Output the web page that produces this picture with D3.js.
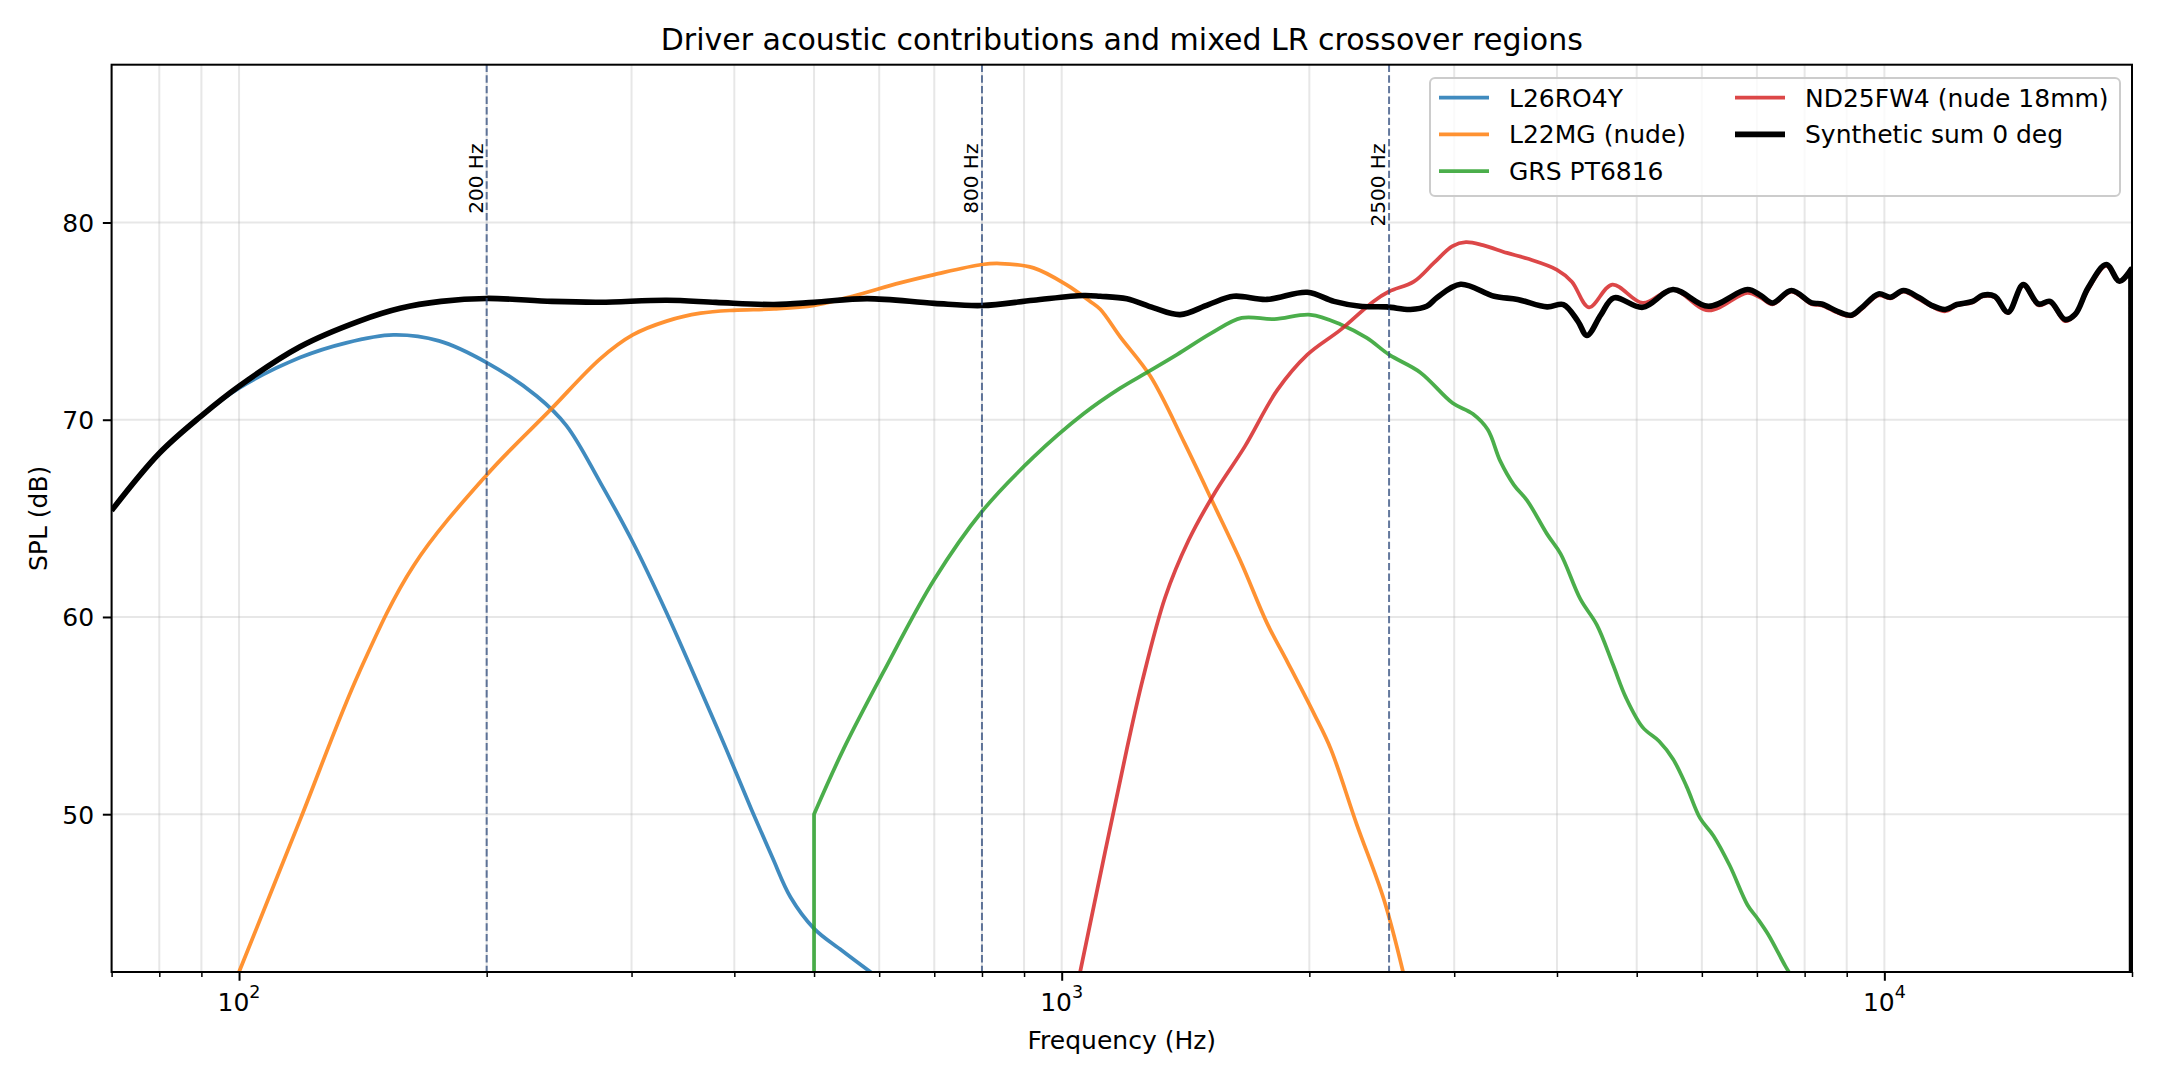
<!DOCTYPE html>
<html>
<head>
<meta charset="utf-8">
<script src="https://cdn.jsdelivr.net/npm/d3@7/dist/d3.min.js"></script>
<style>
  body { margin: 0; background: #fff; }
  .spl-chart text { font-family: 'DejaVu Sans', sans-serif; fill: #000; }
</style>
</head>
<body>
<div class="spl-chart"></div>
<script>
// [frequency Hz, SPL dB]
const l26ro4y = [
  [70, 65.4], [80, 68.3], [90, 70.2], [100, 71.6], [118.6, 73.15], [135, 73.9],
  [154, 74.3], [175, 74.0], [200, 72.9], [230, 71.2], [250, 69.7], [275, 66.8],
  [301, 63.8], [331, 60.2], [364, 56.3], [391, 53.3], [420, 50.2], [445, 47.8],
  [468, 45.8], [500, 44.2], [540, 43.1], [590, 41.9]
];

const l22mg = [
  [100, 42.0], [118.6, 49.7], [140, 57.2], [163, 62.6], [200, 67.2], [239, 70.5],
  [275, 73.1], [301, 74.3], [331, 75.0], [364, 75.4], [399, 75.55], [447, 75.62],
  [500, 75.8], [557, 76.26], [636, 76.94], [700, 77.36], [800, 77.87], [842, 77.92],
  [924, 77.7], [1013, 76.85], [1083, 76.0], [1114, 75.6], [1178, 74.2], [1282, 72.2],
  [1411, 68.8], [1535, 65.6], [1655, 62.7], [1776, 59.7], [1882, 57.7], [2026, 55.1],
  [2124, 53.3], [2283, 49.5], [2463, 45.7], [2600, 42.0]
];

const grsPt6816 = [
  [500, 20], [500, 50.0], [543, 53.3], [607, 57.2], [700, 61.9], [800, 65.35],
  [924, 68.1], [1063, 70.3], [1178, 71.6], [1270, 72.4], [1381, 73.3], [1522, 74.4],
  [1655, 75.16], [1813, 75.1], [2007, 75.32], [2184, 74.83], [2349, 74.15], [2500, 73.3],
  [2728, 72.4], [2986, 70.85], [3159, 70.3], [3295, 69.5], [3413, 67.9], [3545, 66.7],
  [3680, 65.9], [3891, 64.2], [4041, 63.2], [4271, 60.9], [4472, 59.6], [4677, 57.6],
  [4853, 55.9], [5085, 54.4], [5324, 53.7], [5534, 52.8], [5750, 51.4], [5970, 49.8],
  [6200, 48.9], [6487, 47.4], [6818, 45.4], [7000, 44.75], [7225, 43.9], [7580, 42.3],
  [7710, 41.8]
];

const nd25fw4 = [
  [1053, 42.0], [1200, 53.3], [1254, 56.8], [1336, 61.0], [1427, 63.9], [1535, 66.3],
  [1670, 68.65], [1828, 71.5], [1989, 73.3], [2184, 74.57], [2393, 76.0], [2500, 76.5],
  [2679, 77.0], [2834, 77.95], [2986, 78.8], [3100, 79.0], [3250, 78.85], [3477, 78.46],
  [3680, 78.17], [4000, 77.6], [4170, 77.0], [4375, 75.7], [4669, 76.85], [5085, 75.92],
  [5534, 76.6], [6110, 75.54], [6818, 76.43], [7075, 76.18], [7314, 75.85], [7710, 76.5],
  [8160, 75.85], [8390, 75.8], [8800, 75.4], [9120, 75.25], [9380, 75.6], [9840, 76.3],
  [10170, 76.15], [10550, 76.5], [11030, 76.1], [11410, 75.75], [11860, 75.5], [12250, 75.8],
  [12800, 75.95], [13170, 76.25], [13620, 76.2], [14140, 75.4], [14750, 76.8], [15390, 75.8],
  [15900, 75.95], [16580, 75.0], [17050, 75.3], [17690, 76.6], [18610, 77.8], [19310, 77.0],
  [19940, 77.55]
];

const syntheticSum = [
  [70, 65.4], [80, 68.3], [90, 70.2], [100, 71.7], [118.6, 73.7], [140, 75.0],
  [157, 75.65], [176, 76.0], [200, 76.15], [240, 76.0], [275, 75.96], [331, 76.06],
  [380, 75.95], [447, 75.84], [500, 75.95], [580, 76.14], [700, 75.9], [800, 75.79],
  [924, 76.06], [1063, 76.3], [1114, 76.26], [1200, 76.13], [1294, 75.67], [1393, 75.33],
  [1508, 75.84], [1618, 76.26], [1776, 76.1], [1989, 76.46], [2143, 76.0], [2306, 75.75],
  [2483, 75.72], [2654, 75.59], [2778, 75.75], [2860, 76.2], [3054, 76.87], [3356, 76.26],
  [3583, 76.1], [3891, 75.72], [4073, 75.84], [4242, 74.99], [4350, 74.27], [4524, 75.33],
  [4690, 76.18], [5085, 75.7], [5534, 76.6], [6110, 75.75], [6818, 76.6], [7075, 76.3],
  [7314, 75.92], [7710, 76.55], [8160, 75.92], [8390, 75.87], [8800, 75.47], [9120, 75.3],
  [9380, 75.67], [9840, 76.38], [10170, 76.21], [10550, 76.55], [11030, 76.18], [11410, 75.8],
  [11860, 75.59], [12250, 75.84], [12800, 76.0], [13170, 76.31], [13620, 76.26], [14140, 75.45],
  [14750, 76.85], [15390, 75.87], [15900, 76.0], [16580, 75.08], [17050, 75.33], [17690, 76.69],
  [18610, 77.87], [19310, 77.02], [19940, 77.62], [20000, 20]
];

const crossovers = [200, 800, 2500];
const crossoverLabels = ['200 Hz', '800 Hz', '2500 Hz'];
const yTicks = [50, 60, 70, 80];
const xMajorTicks = [100, 1000, 10000];
const xMajorLabels = [['10', '2'], ['10', '3'], ['10', '4']];

const config = {
  container: '.spl-chart',
  width: 2160,
  height: 1080,
  left: 111.6,
  right: 2132,
  top: 64.7,
  bottom: 972,
  xDomain: [70, 20000],
  yDomain: [42, 88]
};

// head / tail = how many leading / trailing segments are hard jumps, drawn straight
const series = [
  { name: 'L26RO4Y', values: l26ro4y, color: '#1f77b4', lw: 3.75, opacity: 0.85, head: 0, tail: 0 },
  { name: 'L22MG (nude)', values: l22mg, color: '#ff7f0e', lw: 3.75, opacity: 0.85, head: 0, tail: 0 },
  { name: 'GRS PT6816', values: grsPt6816, color: '#2ca02c', lw: 3.75, opacity: 0.85, head: 1, tail: 0 },
  { name: 'ND25FW4 (nude 18mm)', values: nd25fw4, color: '#d62728', lw: 3.75, opacity: 0.85, head: 0, tail: 0 },
  { name: 'Synthetic sum 0 deg', values: syntheticSum, color: '#000000', lw: 5.6, opacity: 1, head: 0, tail: 1 }
];

const chart = {};

chart.$svg = d3.select(config.container)
  .append('svg')
  .attr('width', config.width)
  .attr('height', config.height)
  .attr('viewBox', `0 0 ${config.width} ${config.height}`);

chart.$svg.append('rect')
  .attr('width', config.width)
  .attr('height', config.height)
  .attr('fill', '#fff');

chart.x = d3.scaleLog().domain(config.xDomain).range([config.left, config.right]);
chart.y = d3.scaleLinear().domain(config.yDomain).range([config.bottom, config.top]);

const plotW = config.right - config.left;
const plotH = config.bottom - config.top;

chart.$svg.append('clipPath')
  .attr('id', 'plot-clip')
  .append('rect')
  .attr('x', config.left)
  .attr('y', config.top)
  .attr('width', plotW)
  .attr('height', plotH);

// grid
const xGridTicks = chart.x.ticks();
const $grid = chart.$svg.append('g');

$grid.selectAll('line.xg')
  .data(xGridTicks)
  .enter()
  .append('line')
  .attr('x1', d => chart.x(d))
  .attr('x2', d => chart.x(d))
  .attr('y1', config.top)
  .attr('y2', config.bottom)
  .attr('stroke', '#b0b0b0')
  .attr('stroke-opacity', 0.3)
  .attr('stroke-width', 2);

$grid.selectAll('line.yg')
  .data(yTicks)
  .enter()
  .append('line')
  .attr('x1', config.left)
  .attr('x2', config.right)
  .attr('y1', d => chart.y(d))
  .attr('y2', d => chart.y(d))
  .attr('stroke', '#b0b0b0')
  .attr('stroke-opacity', 0.3)
  .attr('stroke-width', 2);

// curves
const smoothLine = d3.line()
  .x(d => chart.x(d[0]))
  .y(d => chart.y(d[1]))
  .curve(d3.curveCatmullRom.alpha(0.5));

const straightLine = d3.line()
  .x(d => chart.x(d[0]))
  .y(d => chart.y(d[1]));

const $plot = chart.$svg.append('g').attr('clip-path', 'url(#plot-clip)');

series.forEach(s => {
  const n = s.values.length;
  const body = s.values.slice(s.head, n - s.tail);
  let d = smoothLine(body);
  if (s.head) d = straightLine(s.values.slice(0, s.head + 1)) + d.replace(/^M[^A-Za-z]*/, 'L' + d.match(/^M([^A-Za-z]*)/)[1]);
  if (s.tail) d += straightLine(s.values.slice(n - s.tail - 1)).replace(/^M[^A-Za-z]*/, '');

  $plot.append('path')
    .attr('d', d)
    .attr('fill', 'none')
    .attr('stroke', s.color)
    .attr('stroke-opacity', s.opacity)
    .attr('stroke-width', s.lw)
    .attr('stroke-linejoin', 'round')
    .attr('stroke-linecap', 'butt');
});

// crossover markers
crossovers.forEach((f, i) => {
  $plot.append('line')
    .attr('x1', chart.x(f))
    .attr('x2', chart.x(f))
    .attr('y1', config.top)
    .attr('y2', config.bottom)
    .attr('stroke', '#2f4b7c')
    .attr('stroke-opacity', 0.75)
    .attr('stroke-width', 2)
    .attr('stroke-dasharray', '7.4,3.2');

  chart.$svg.append('text')
    .attr('transform', `translate(${chart.x(f) - 4},${chart.y(84)}) rotate(-90)`)
    .attr('text-anchor', 'end')
    .attr('font-size', 20)
    .text(crossoverLabels[i]);
});

// spines
chart.$svg.append('rect')
  .attr('x', config.left)
  .attr('y', config.top)
  .attr('width', plotW)
  .attr('height', plotH)
  .attr('fill', 'none')
  .attr('stroke', '#000')
  .attr('stroke-width', 2);

// y axis
const $yAxis = chart.$svg.append('g')
  .attr('transform', `translate(${config.left},0)`)
  .call(d3.axisLeft(chart.y).tickValues(yTicks).tickSize(8.75).tickPadding(8.75).tickSizeOuter(0));
$yAxis.select('.domain').remove();
$yAxis.selectAll('line').attr('stroke-width', 2);
$yAxis.selectAll('text')
  .attr('font-size', 25)
  .attr('font-family', 'DejaVu Sans')
  .attr('dy', '0.36em');

// x axis, major + minor
const $xMinor = chart.$svg.append('g')
  .attr('transform', `translate(0,${config.bottom})`)
  .call(d3.axisBottom(chart.x)
    .tickValues(xGridTicks.filter(d => xMajorTicks.indexOf(d) < 0))
    .tickSize(5).tickSizeOuter(0).tickFormat(''));
$xMinor.select('.domain').remove();
$xMinor.selectAll('line').attr('stroke-width', 1.5);

const $xMajor = chart.$svg.append('g')
  .attr('transform', `translate(0,${config.bottom})`)
  .call(d3.axisBottom(chart.x).tickValues(xMajorTicks).tickSize(8.75).tickSizeOuter(0).tickFormat(''));
$xMajor.select('.domain').remove();
$xMajor.selectAll('line').attr('stroke-width', 2);

xMajorTicks.forEach((t, i) => {
  const $t = chart.$svg.append('text')
    .attr('x', chart.x(t))
    .attr('y', 1010.5)
    .attr('text-anchor', 'middle')
    .attr('font-size', 25);
  $t.append('tspan').text(xMajorLabels[i][0]);
  $t.append('tspan').attr('font-size', 17.5).attr('dy', -13).text(xMajorLabels[i][1]);
});

// labels
chart.$svg.append('text')
  .attr('x', (config.left + config.right) / 2)
  .attr('y', 1048.5)
  .attr('text-anchor', 'middle')
  .attr('font-size', 25)
  .text('Frequency (Hz)');

chart.$svg.append('text')
  .attr('transform', `translate(47.4,${(config.top + config.bottom) / 2}) rotate(-90)`)
  .attr('text-anchor', 'middle')
  .attr('font-size', 25)
  .text('SPL (dB)');

chart.$svg.append('text')
  .attr('x', (config.left + config.right) / 2)
  .attr('y', 50)
  .attr('text-anchor', 'middle')
  .attr('font-size', 30)
  .text('Driver acoustic contributions and mixed LR crossover regions');

// legend, two columns
const legend = { x: 1430, y: 78, w: 690, h: 118, colX: [1439, 1735], rowY: 97.7, rowStep: 36.7, handle: 50 };
const $legend = chart.$svg.append('g');

$legend.append('rect')
  .attr('x', legend.x)
  .attr('y', legend.y)
  .attr('width', legend.w)
  .attr('height', legend.h)
  .attr('rx', 5)
  .attr('fill', '#fff')
  .attr('fill-opacity', 0.8)
  .attr('stroke', '#cccccc')
  .attr('stroke-width', 2);

series.forEach((s, i) => {
  const col = Math.floor(i / 3);
  const row = i % 3;
  const cx = legend.colX[col];
  const cy = legend.rowY + row * legend.rowStep;

  $legend.append('line')
    .attr('x1', cx)
    .attr('x2', cx + legend.handle)
    .attr('y1', cy)
    .attr('y2', cy)
    .attr('stroke', s.color)
    .attr('stroke-opacity', s.opacity)
    .attr('stroke-width', s.lw);

  $legend.append('text')
    .attr('x', cx + legend.handle + 20)
    .attr('y', cy + 9)
    .attr('font-size', 25)
    .text(s.name);
});
</script>
</body>
</html>
